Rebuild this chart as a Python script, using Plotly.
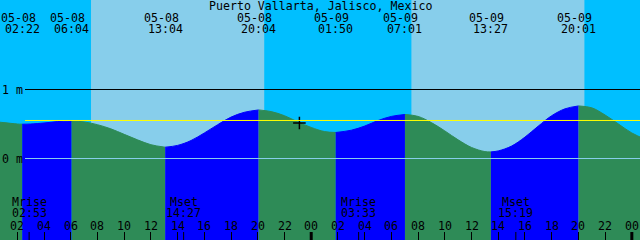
import plotly.graph_objects as go
from datetime import datetime, timedelta

# ---------------- data ----------------
title = "Puerto Vallarta, Jalisco, Mexico"
year = 2024

# tide extremes (date, time, height in m)
event_dates = ["05-08", "05-08", "05-08", "05-08", "05-09", "05-09", "05-09", "05-09"]
event_clock = ["02:22", "06:04", "13:04", "20:04", "01:50", "07:01", "13:27", "20:01"]
event_heights = [0.497, 0.545, 0.164, 0.704, 0.377, 0.638, 0.096, 0.762]

# curve readings (hours after 05-08 00:00, height m)
curve_hours = [0.5, 1, 2, 3, 4, 5, 7, 8, 9, 10, 11, 12, 14, 15, 16, 17, 18, 19,
               21, 22, 23, 24, 25, 27, 28, 29, 30, 32, 33, 34, 35, 36, 37,
               38, 39, 40, 41, 42, 43, 45, 46, 47, 48, 49]
curve_heights = [0.53, 0.52, 0.50, 0.50, 0.515, 0.535, 0.53, 0.49, 0.43, 0.35, 0.27, 0.20,
                 0.19, 0.26, 0.37, 0.49, 0.60, 0.67,
                 0.68, 0.62, 0.53, 0.45, 0.39, 0.41, 0.47, 0.55, 0.61,
                 0.61, 0.52, 0.40, 0.27, 0.16, 0.10,
                 0.11, 0.18, 0.31, 0.47, 0.62, 0.72, 0.735, 0.63, 0.50, 0.37, 0.28]

# daylight intervals
sunrise = ["05-08 07:31", "05-09 07:30"]
sunset = ["05-08 20:29", "05-09 20:27"]

# moon events
moon_names = ["Mrise", "Mset", "Mrise", "Mset"]
moon_dates = ["05-08", "05-08", "05-09", "05-09"]
moon_clock = ["02:53", "14:27", "03:33", "15:19"]

# current-time mark
mark_time = "05-08 23:07"
mark_height = 0.514

mean_level = 0.551
level_labels = ["1 m", "0 m"]
level_values = [1, 0]

tick_hours = list(range(2, 50, 2))
tick_labels = ["%02d" % (h % 24) for h in tick_hours]
midnights = ["05-09 00:00", "05-10 00:00"]

x_start = "2024-05-08 00:42:15"
x_end = "2024-05-10 00:36:40"
y_bottom, y_top = -1.181, 2.297

# ---------------- helpers ----------------
day0 = datetime(year, 5, 8)


def ts(s):
    return datetime.strptime(f"{year}-{s}", "%Y-%m-%d %H:%M")


FONT = dict(family="DejaVu Sans Mono", size=11.6, color="black")
NIGHT = "#00BFFF"
DAY = "#87CEEB"
FLOOD = "#0000FF"
EBB = "#2E8B57"

events = [ts(d + " " + c) for d, c in zip(event_dates, event_clock)]
points = [(day0 + timedelta(hours=h), v) for h, v in zip(curve_hours, curve_heights)]
points += list(zip(events, event_heights))
points.sort()

bounds = [points[0][0]] + events + [points[-1][0]]

fig = go.Figure()
for a, b in zip(bounds[:-1], bounds[1:]):
    seg = [(t, v) for t, v in points if a <= t <= b]
    xs = [p[0] for p in seg]
    ys = [p[1] for p in seg]
    col = FLOOD if ys[-1] > ys[0] else EBB
    fig.add_trace(go.Scatter(x=[xs[0], xs[-1]], y=[y_bottom - 0.1, y_bottom - 0.1], mode="lines",
                             line=dict(width=0, color=col), hoverinfo="skip", showlegend=False))
    fig.add_trace(go.Scatter(x=xs, y=ys, mode="lines", fill="tonexty", fillcolor=col,
                             line=dict(width=1, color=col, shape="spline"),
                             hoverinfo="skip", showlegend=False))

fig.add_trace(go.Scatter(x=[ts(mark_time)], y=[mark_height], mode="markers",
                         marker=dict(symbol="cross-thin", size=9, line=dict(width=1.5, color="black")),
                         showlegend=False, hoverinfo="skip"))

shapes = []
for r, s in zip(sunrise, sunset):
    shapes.append(dict(type="rect", xref="x", yref="paper", x0=ts(r), x1=ts(s), y0=0, y1=1,
                       fillcolor=DAY, line=dict(width=0), layer="below"))
line_x0 = 25 / 640
shapes.append(dict(type="line", xref="paper", yref="y", x0=line_x0, x1=1, y0=1, y1=1,
                   line=dict(color="black", width=1), layer="above"))
shapes.append(dict(type="line", xref="paper", yref="y", x0=line_x0, x1=1, y0=0, y1=0,
                   line=dict(color=DAY, width=1), layer="above"))
shapes.append(dict(type="line", xref="paper", yref="y", x0=line_x0, x1=1, y0=mean_level, y1=mean_level,
                   line=dict(color="#FFFF00", width=1), layer="above"))
tick_h = 8 / 240
for d, c in zip(moon_dates, moon_clock):
    t = ts(d + " " + c)
    shapes.append(dict(type="line", xref="x", yref="paper", x0=t, x1=t, y0=0, y1=tick_h,
                       line=dict(color="black", width=1), layer="above"))
for m in midnights:
    t = ts(m)
    shapes.append(dict(type="line", xref="x", yref="paper", x0=t, x1=t, y0=0, y1=tick_h,
                       line=dict(color="black", width=3), layer="above"))

ann = []


def py(pix):
    return 1 - pix / 240


ann.append(dict(text=title, x=0.5, xref="paper", y=py(5.5), yref="paper", showarrow=False,
                font=FONT, xanchor="center", yanchor="middle"))
for d, c, t in zip(event_dates, event_clock, events):
    ann.append(dict(text=d, x=t, xref="x", y=py(17.8), yref="paper", xshift=-4, showarrow=False,
                    font=FONT, xanchor="center", yanchor="middle"))
    ann.append(dict(text=c, x=t, xref="x", y=py(29.2), yref="paper", showarrow=False,
                    font=FONT, xanchor="center", yanchor="middle"))
for n, d, c in zip(moon_names, moon_dates, moon_clock):
    t = ts(d + " " + c)
    ann.append(dict(text=n, x=t, xref="x", y=py(202.2), yref="paper", showarrow=False,
                    font=FONT, xanchor="center", yanchor="middle"))
    ann.append(dict(text=c, x=t, xref="x", y=py(213.3), yref="paper", showarrow=False,
                    font=FONT, xanchor="center", yanchor="middle"))
for h, lab in zip(tick_hours, tick_labels):
    ann.append(dict(text=lab, x=day0 + timedelta(hours=h), xref="x", y=py(225.8), yref="paper",
                    showarrow=False, font=FONT, xanchor="center", yanchor="middle"))
for lab, v in zip(level_labels, level_values):
    ann.append(dict(text=lab, x=0, xref="paper", y=v, yref="y", showarrow=False,
                    font=FONT, xanchor="left", yanchor="middle"))

fig.update_layout(
    width=640, height=240,
    margin=dict(l=0, r=0, t=0, b=0),
    paper_bgcolor=NIGHT, plot_bgcolor=NIGHT,
    shapes=shapes, annotations=ann, showlegend=False,
    xaxis=dict(type="date", range=[x_start, x_end], showgrid=False, zeroline=False, showline=False,
               ticks="inside", ticklen=8, tickwidth=1, tickcolor="black",
               tick0="2024-05-08 00:00", dtick=7200000, showticklabels=False, fixedrange=True),
    yaxis=dict(range=[y_bottom, y_top], showgrid=False, zeroline=False, showline=False,
               showticklabels=False, ticks="", fixedrange=True),
)

fig.write_html("out.html")
